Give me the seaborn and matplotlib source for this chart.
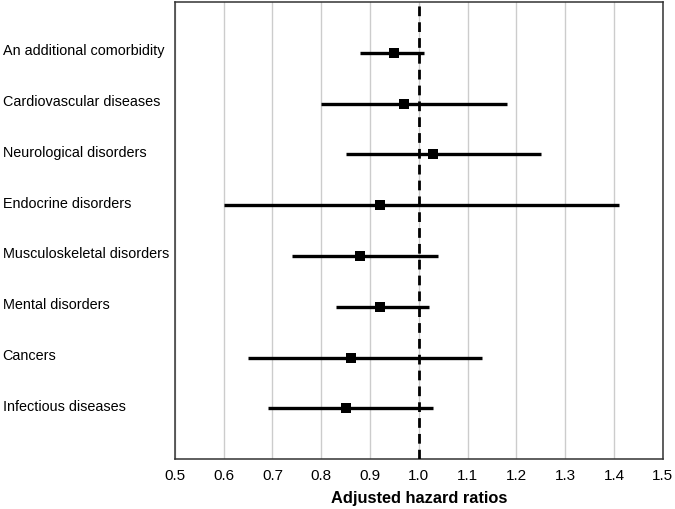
import numpy as np
import pandas as pd
import matplotlib
matplotlib.use('Agg')
import matplotlib.pyplot as plt
import seaborn as sns

categories = ['An additional comorbidity', 'Cardiovascular diseases', 'Neurological disorders',
              'Endocrine disorders', 'Musculoskeletal disorders', 'Mental disorders',
              'Cancers', 'Infectious diseases']
hr = [0.95, 0.97, 1.03, 0.92, 0.88, 0.92, 0.86, 0.85]
ci_low = [0.88, 0.80, 0.85, 0.60, 0.74, 0.83, 0.65, 0.69]
ci_high = [1.01, 1.18, 1.25, 1.41, 1.04, 1.02, 1.13, 1.03]
xticks = [0.5, 0.6, 0.7, 0.8, 0.9, 1.0, 1.1, 1.2, 1.3, 1.4, 1.5]

df = pd.DataFrame({'cat': categories, 'hr': hr, 'lo': ci_low, 'hi': ci_high})
df['pos'] = np.arange(1, len(df) + 1)

sns.set_theme(style='whitegrid')
plt.rcParams['font.family'] = ['Liberation Sans', 'DejaVu Sans']

fig = plt.figure(figsize=(6.75, 5.09), dpi=100)
ax = fig.add_axes([0.259, 0.098, 0.723, 0.898])

ax.hlines(df['pos'], df['lo'], df['hi'], color='black', lw=2.4, zorder=3)
sns.scatterplot(data=df, x='hr', y='pos', marker='s', s=48, color='black',
                edgecolor='black', linewidth=0, ax=ax, zorder=4)
ax.axvline(1.0, color='black', lw=2, ls=(0, (3.5, 2.2)), zorder=5)

ax.set_xlim(0.5, 1.5)
ax.set_ylim(9, 0)
ax.set_xticks(xticks)
ax.set_xticklabels([f'{t:.1f}' for t in xticks], fontsize=11, color='black')
ax.set_yticks(df['pos'] - 0.06)
ax.set_yticklabels(df['cat'], fontsize=10.4, ha='left', color='black')
ax.tick_params(axis='y', length=0, pad=124)
ax.tick_params(axis='x', length=0, pad=7)
ax.grid(axis='y', visible=False)
ax.grid(axis='x', color='#cccccc', lw=1)
for sp in ax.spines.values():
    sp.set_color('#333333')
    sp.set_linewidth(1.1)
ax.set_ylabel('')
ax.set_xlabel('Adjusted hazard ratios', fontsize=11.8, fontweight='bold',
              labelpad=6, color='black')

fig.savefig('out.png', dpi=100)
